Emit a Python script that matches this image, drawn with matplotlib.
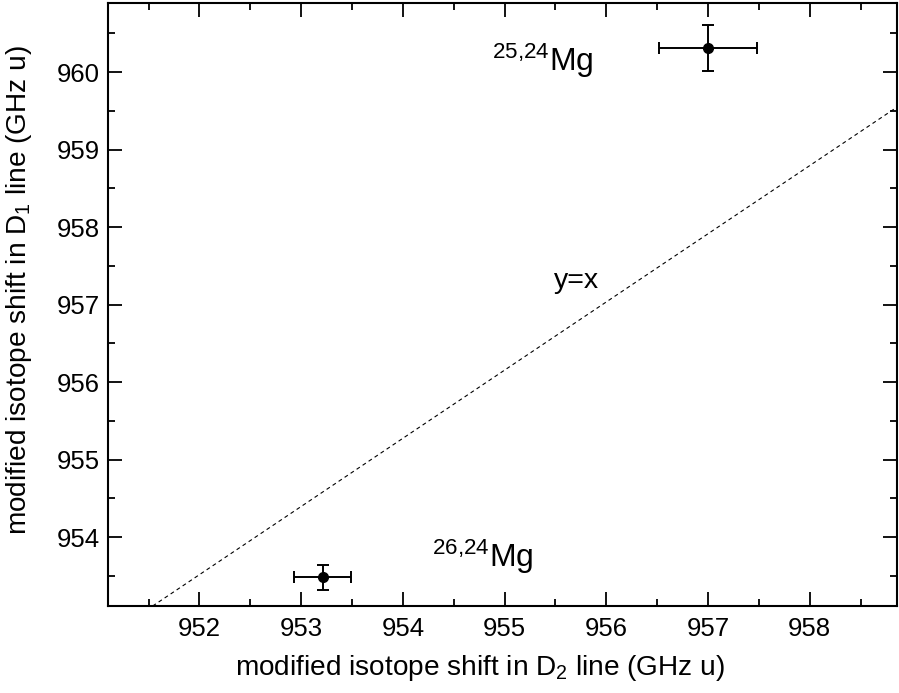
import matplotlib
matplotlib.use('Agg')
import matplotlib.pyplot as plt
from matplotlib.ticker import MultipleLocator

plt.rcParams['font.family'] = ['Liberation Sans', 'DejaVu Sans']
plt.rcParams['mathtext.fontset'] = 'custom'
plt.rcParams['mathtext.rm'] = 'Liberation Sans'
plt.rcParams['mathtext.it'] = 'Liberation Sans'
plt.rcParams['mathtext.default'] = 'regular'

## data
isotopes = ['$^{25{,}24}$Mg', '$^{26{,}24}$Mg']
shift_d2 = [957.00, 953.21]
shift_d1 = [960.31, 953.48]
err_d2 = [0.48, 0.28]
err_d1 = [0.30, 0.16]

line_x = [951.54, 958.86]
line_y = [953.11, 959.55]

fig = plt.figure(figsize=(8.99, 6.93), dpi=100)
ax = fig.add_axes([0.120, 0.1255, 0.878, 0.870])

ax.plot(line_x, line_y, color='black', lw=0.8, ls=(0, (3.5, 3)))
ax.errorbar(shift_d2, shift_d1, xerr=err_d2, yerr=err_d1, fmt='o', color='black',
            ms=7, elinewidth=1.4, capsize=4.5, capthick=1.4)

ax.text(954.88, 960.01, isotopes[0], fontsize=23, ha='left', va='baseline')
ax.text(954.29, 953.62, isotopes[1], fontsize=23, ha='left', va='baseline')
ax.text(955.49, 957.22, 'y=x', fontsize=20.5, ha='left', va='baseline')

ax.set_xlim(951.10, 958.86)
ax.set_ylim(953.11, 960.89)
ax.xaxis.set_major_locator(MultipleLocator(1))
ax.xaxis.set_minor_locator(MultipleLocator(0.5))
ax.yaxis.set_major_locator(MultipleLocator(1))
ax.yaxis.set_minor_locator(MultipleLocator(0.5))
ax.tick_params(which='both', direction='in', top=True, right=True, width=1.3, labelsize=18.5)
ax.tick_params(which='major', length=10)
ax.tick_params(which='minor', length=5)
ax.tick_params(axis='x', which='major', pad=8)
ax.tick_params(axis='y', which='major', pad=6)
for sp in ax.spines.values():
    sp.set_linewidth(1.5)

ax.set_xlabel('modified isotope shift in D$_2$ line (GHz u)', fontsize=20.2)
ax.set_ylabel('modified isotope shift in D$_1$ line (GHz u)', fontsize=20.2)
ax.xaxis.set_label_coords(0.471, -0.078)
ax.yaxis.set_label_coords(-0.094, 0.524)

fig.savefig('out.png', dpi=100)
